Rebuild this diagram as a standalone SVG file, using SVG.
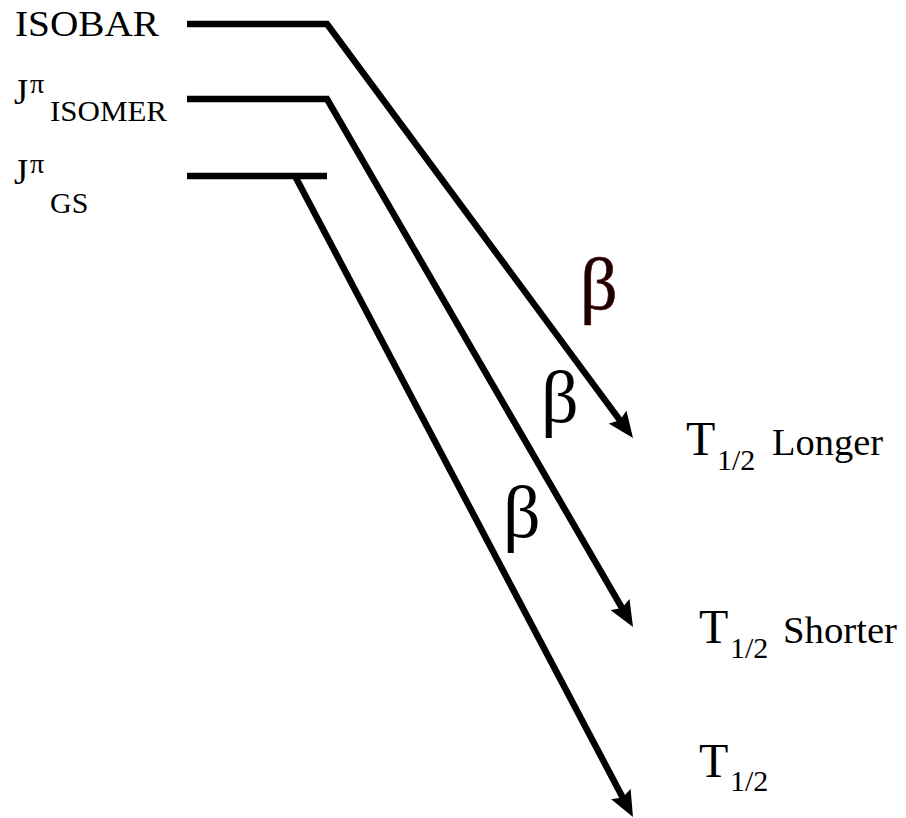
<svg xmlns="http://www.w3.org/2000/svg" width="906" height="818" viewBox="0 0 906 818">
<style>
.lv{fill:none;stroke:#000;stroke-width:6.5;stroke-linejoin:miter}
text{font-family:"Liberation Serif","Times New Roman",serif;fill:#000}
</style>
<defs>
<marker id="ah" markerUnits="userSpaceOnUse" viewBox="0 0 26 22" markerWidth="26" markerHeight="22" refX="14" refY="11" orient="auto">
<path d="M0,0 L26,11 L0,22 L4,11 z" fill="#000"/>
</marker>
</defs>
<g id="isobar">
<text font-size="36" x="15" y="36" textLength="144" lengthAdjust="spacingAndGlyphs">ISOBAR</text>
</g>
<g id="isomer">
<text x="14" y="104" font-size="36">J<tspan x="30" y="93" font-size="28">π</tspan><tspan x="50" y="121" font-size="30" textLength="117" lengthAdjust="spacingAndGlyphs">ISOMER</tspan></text>
</g>
<g id="gs">
<text x="14" y="184" font-size="36">J<tspan x="30" y="173" font-size="28">π</tspan><tspan x="50" y="213" font-size="30">GS</tspan></text>
</g>
<g id="t-longer">
<text x="686" y="455" font-size="48">T<tspan x="717" y="470" font-size="30">1/2</tspan><tspan x="772" y="455" font-size="37" textLength="111" lengthAdjust="spacingAndGlyphs">Longer</tspan></text>
</g>
<g id="t-shorter">
<text x="699" y="643" font-size="48">T<tspan x="730" y="658" font-size="30">1/2</tspan><tspan x="783" y="643" font-size="38" textLength="114" lengthAdjust="spacingAndGlyphs">Shorter</tspan></text>
</g>
<g id="t-gs">
<text x="699" y="777" font-size="48">T<tspan x="730" y="791" font-size="30">1/2</tspan></text>
</g>
<g id="labels" font-size="74">
<text x="580" y="309" style="fill:#1a0000" stroke="#5a0000" stroke-width="0.6">β</text>
<text x="541" y="422">β</text>
<text x="503" y="537">β</text>
</g>
<g id="connectors">
<path class="lv" d="M187,24 L327,24 L625.9,428.4" marker-end="url(#ah)"/>
<path class="lv" d="M187,99 L327,99 L627,616.6" marker-end="url(#ah)"/>
<path class="lv" d="M187,176 L327,176"/>
<path class="lv" d="M295,176 L627.4,806.4" marker-end="url(#ah)"/>
</g>
</svg>
